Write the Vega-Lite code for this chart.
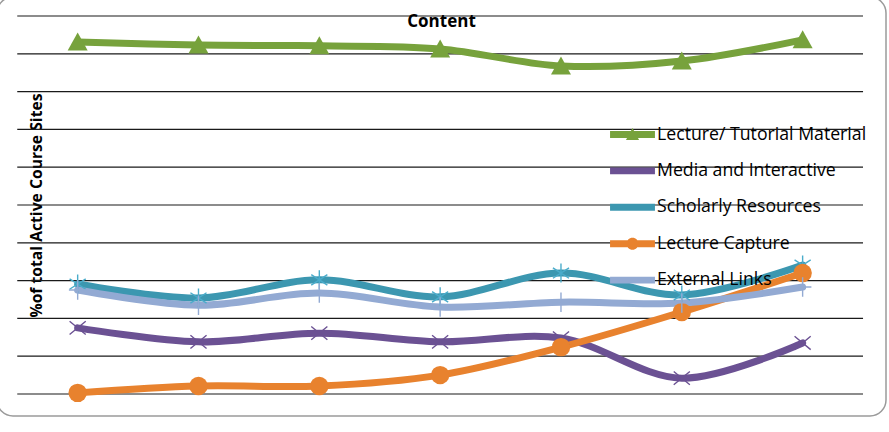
{
  "$schema": "https://vega.github.io/schema/vega-lite/v6.json",
  "width": 889,
  "height": 419,
  "padding": {"left": -3, "top": -3, "right": 3, "bottom": 16},
  "autosize": {"type": "none"},
  "background": "#ffffff",
  "config": {
    "view": {"stroke": "#9a9a9a", "strokeWidth": 1.5, "cornerRadius": 16},
    "font": "Open Sans"
  },
  "title": {
    "text": "Content",
    "font": "Open Sans",
    "fontSize": 17,
    "fontWeight": "bold",
    "color": "#000000",
    "baseline": "alphabetic",
    "offset": 0,
    "dy": 47
  },
  "encoding": {
    "y": {
      "field": "v",
      "type": "quantitative",
      "scale": {"domain": [-5.82, 105.03], "nice": false, "zero": false},
      "axis": {
        "title": "%of total Active Course Sites",
        "labels": false,
        "ticks": false,
        "domain": false,
        "grid": false,
        "titleFont": "Open Sans",
        "titleFontSize": 15.7,
        "titleFontWeight": "bold",
        "titleColor": "#000000",
        "titleAngle": -90,
        "titleAlign": "center",
        "titleBaseline": "middle",
        "titleX": 39,
        "titleY": 208
      }
    }
  },
  "layer": [
    {
      "data": {"values": [{"v": 0}, {"v": 10}, {"v": 20}, {"v": 30}, {"v": 40}, {"v": 50}, {"v": 60}, {"v": 70}, {"v": 80}, {"v": 90}, {"v": 100}]},
      "mark": {"type": "rule", "color": "#1a1a1a", "strokeWidth": 1.2},
      "encoding": {
        "x": {"datum": 0.5, "type": "quantitative", "scale": {"domain": [0.3324, 7.69], "nice": false, "zero": false}, "axis": null},
        "x2": {"datum": 7.5}
      }
    },
    {
      "data": {"name": "series"},
      "mark": {"type": "line", "interpolate": "catmull-rom", "strokeWidth": 7, "strokeCap": "round"},
      "encoding": {
        "x": {"field": "x", "type": "quantitative", "scale": {"domain": [0.3324, 7.69], "nice": false, "zero": false}, "axis": null},
        "color": {
          "field": "series",
          "type": "nominal",
          "scale": {
            "domain": ["Lecture/ Tutorial Material", "Media and Interactive", "Scholarly Resources", "Lecture Capture", "External Links"],
            "range": ["#77a23c", "#6b5193", "#3c97b0", "#e8822e", "#93aad3"]
          }
        }
      }
    },
    {
      "data": {"name": "series"},
      "transform": [{"filter": "datum.series === 'Lecture/ Tutorial Material'"}],
      "mark": {"type": "point", "shape": "M-1,0.85L0,-0.95L1,0.85Z", "filled": true, "color": "#77a23c", "size": 400, "opacity": 1},
      "encoding": {"x": {"field": "x", "type": "quantitative", "scale": {"domain": [0.3324, 7.69], "nice": false, "zero": false}, "axis": null}}
    },
    {
      "data": {"name": "series"},
      "transform": [{"filter": "datum.series === 'Media and Interactive'"}],
      "mark": {"type": "point", "shape": "M-0.85,-0.7L0.85,0.7M-0.85,0.7L0.85,-0.7", "filled": false, "color": "#6b5193", "strokeWidth": 1.4, "size": 360, "opacity": 1},
      "encoding": {"x": {"field": "x", "type": "quantitative", "scale": {"domain": [0.3324, 7.69], "nice": false, "zero": false}, "axis": null}}
    },
    {
      "data": {"name": "series"},
      "transform": [{"filter": "datum.series === 'Scholarly Resources'"}],
      "mark": {"type": "point", "shape": "M0,-1V1M-0.85,-0.55L0.85,0.55M-0.85,0.55L0.85,-0.55", "filled": false, "color": "#4aaccb", "strokeWidth": 1.4, "size": 360, "opacity": 1},
      "encoding": {"x": {"field": "x", "type": "quantitative", "scale": {"domain": [0.3324, 7.69], "nice": false, "zero": false}, "axis": null}}
    },
    {
      "data": {"name": "series"},
      "transform": [{"filter": "datum.series === 'Lecture Capture'"}],
      "mark": {"type": "point", "shape": "circle", "filled": true, "color": "#e8822e", "size": 340, "opacity": 1},
      "encoding": {"x": {"field": "x", "type": "quantitative", "scale": {"domain": [0.3324, 7.69], "nice": false, "zero": false}, "axis": null}}
    },
    {
      "data": {"name": "series"},
      "transform": [{"filter": "datum.series === 'External Links'"}],
      "mark": {"type": "point", "shape": "M0,-1V1M-0.9,0H0.9", "filled": false, "color": "#93aad3", "strokeWidth": 1.4, "size": 380, "opacity": 1},
      "encoding": {"x": {"field": "x", "type": "quantitative", "scale": {"domain": [0.3324, 7.69], "nice": false, "zero": false}, "axis": null}}
    },
    {
      "data": {"name": "series"},
      "mark": {"type": "point", "filled": true, "opacity": 1, "size": 0},
      "encoding": {
        "x": {"field": "x", "type": "quantitative", "scale": {"domain": [0.3324, 7.69], "nice": false, "zero": false}, "axis": null},
        "color": {
          "field": "series",
          "type": "nominal",
          "legend": {
            "orient": "none",
            "legendX": 617,
            "legendY": 119,
            "title": null,
            "symbolSize": 1332,
            "symbolOpacity": 1,
            "symbolStrokeWidth": 0,
            "labelFont": "Open Sans",
            "labelFontSize": 17.7,
            "labelColor": "#000000",
            "labelOffset": 6,
            "labelLimit": 400,
            "rowPadding": 8.4
          }
        },
        "shape": {
          "field": "series",
          "type": "nominal",
          "scale": {
            "domain": ["Lecture/ Tutorial Material", "Media and Interactive", "Scholarly Resources", "Lecture Capture", "External Links"],
            "range": [
              "M-1.23,-0.19H1.23V0.19H-1.23Z M-0.36,0.3L0,-0.36L0.36,0.3Z",
              "M-1.23,-0.19H1.23V0.19H-1.23Z",
              "M-1.23,-0.19H1.23V0.19H-1.23Z",
              "M-1.23,-0.19H1.23V0.19H-1.23Z M-0.33,0A0.33,0.33 0 1,1 0.33,0A0.33,0.33 0 1,1 -0.33,0Z",
              "M-1.23,-0.19H1.23V0.19H-1.23Z"
            ]
          }
        }
      }
    }
  ],
  "datasets": {
    "series": [
      {"series": "Lecture/ Tutorial Material", "x": 1, "v": 93.1},
      {"series": "Lecture/ Tutorial Material", "x": 2, "v": 92.3},
      {"series": "Lecture/ Tutorial Material", "x": 3, "v": 92.1},
      {"series": "Lecture/ Tutorial Material", "x": 4, "v": 91.3},
      {"series": "Lecture/ Tutorial Material", "x": 5, "v": 86.8},
      {"series": "Lecture/ Tutorial Material", "x": 6, "v": 88.1},
      {"series": "Lecture/ Tutorial Material", "x": 7, "v": 93.7},
      {"series": "Media and Interactive", "x": 1, "v": 17.5},
      {"series": "Media and Interactive", "x": 2, "v": 13.8},
      {"series": "Media and Interactive", "x": 3, "v": 16.1},
      {"series": "Media and Interactive", "x": 4, "v": 13.8},
      {"series": "Media and Interactive", "x": 5, "v": 14.8},
      {"series": "Media and Interactive", "x": 6, "v": 4.2},
      {"series": "Media and Interactive", "x": 7, "v": 13.5},
      {"series": "Scholarly Resources", "x": 1, "v": 29.1},
      {"series": "Scholarly Resources", "x": 2, "v": 25.4},
      {"series": "Scholarly Resources", "x": 3, "v": 30.2},
      {"series": "Scholarly Resources", "x": 4, "v": 25.7},
      {"series": "Scholarly Resources", "x": 5, "v": 32.0},
      {"series": "Scholarly Resources", "x": 6, "v": 26.2},
      {"series": "Scholarly Resources", "x": 7, "v": 34.1},
      {"series": "Lecture Capture", "x": 1, "v": 0.3},
      {"series": "Lecture Capture", "x": 2, "v": 2.1},
      {"series": "Lecture Capture", "x": 3, "v": 2.1},
      {"series": "Lecture Capture", "x": 4, "v": 5.0},
      {"series": "Lecture Capture", "x": 5, "v": 12.4},
      {"series": "Lecture Capture", "x": 6, "v": 21.7},
      {"series": "Lecture Capture", "x": 7, "v": 32.0},
      {"series": "External Links", "x": 1, "v": 27.5},
      {"series": "External Links", "x": 2, "v": 23.5},
      {"series": "External Links", "x": 3, "v": 26.7},
      {"series": "External Links", "x": 4, "v": 23.0},
      {"series": "External Links", "x": 5, "v": 24.3},
      {"series": "External Links", "x": 6, "v": 24.1},
      {"series": "External Links", "x": 7, "v": 28.3}
    ]
  }
}
